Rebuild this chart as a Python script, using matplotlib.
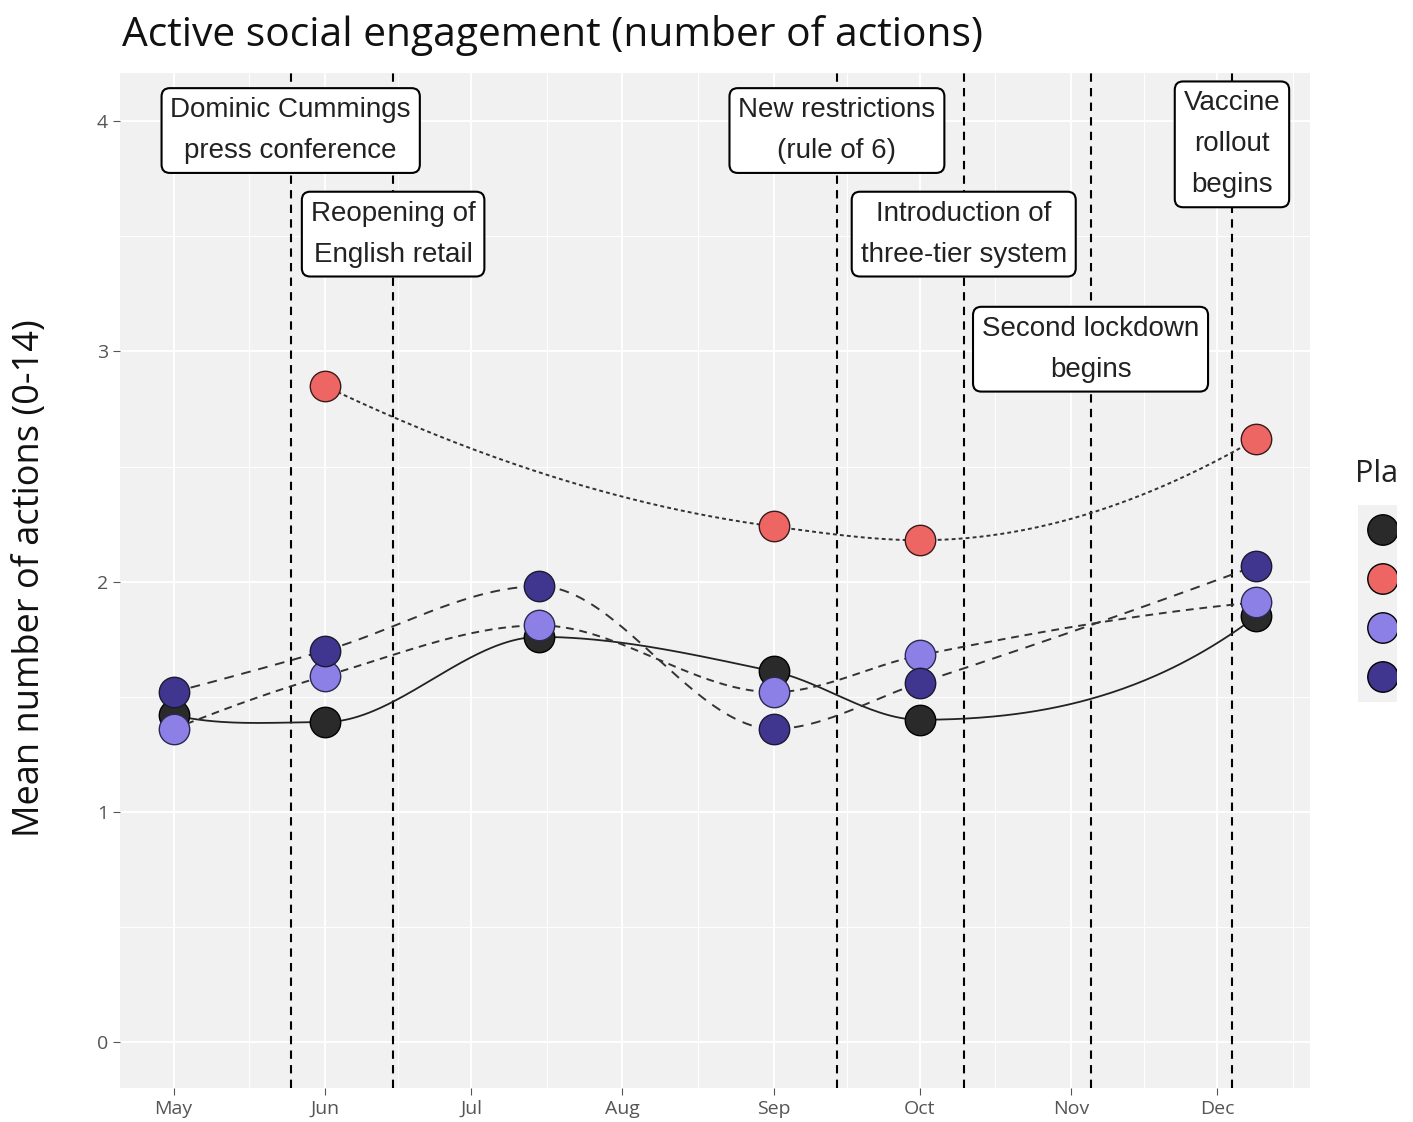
import numpy as np
import matplotlib.pyplot as plt
import matplotlib.dates as mdates
from datetime import datetime

# survey waves (x) and mean number of actions per group
dates = ['2020-05-01', '2020-06-01', '2020-07-15', '2020-09-01', '2020-10-01', '2020-12-09']
black_vals = [1.42, 1.39, 1.76, 1.61, 1.40, 1.85]
red_dates = ['2020-06-01', '2020-09-01', '2020-10-01', '2020-12-09']
red_vals = [2.85, 2.24, 2.18, 2.62]
light_vals = [1.36, 1.59, 1.81, 1.52, 1.68, 1.91]
dark_vals = [1.52, 1.70, 1.98, 1.36, 1.56, 2.07]

# events (vertical lines + labels)
event_dates = ['2020-05-25', '2020-06-15', '2020-09-14', '2020-10-10', '2020-11-05', '2020-12-04']
event_labels = ['Dominic Cummings\npress conference', 'Reopening of\nEnglish retail',
                'New restrictions\n(rule of 6)', 'Introduction of\nthree-tier system',
                'Second lockdown\nbegins', 'Vaccine\nrollout\nbegins']
event_label_y = [3.96, 3.51, 3.96, 3.51, 3.01, 3.90]

month_ticks = ['2020-05-01', '2020-06-01', '2020-07-01', '2020-08-01',
               '2020-09-01', '2020-10-01', '2020-11-01', '2020-12-01']
month_names = ['May', 'Jun', 'Jul', 'Aug', 'Sep', 'Oct', 'Nov', 'Dec']


def to_num(ds):
    return mdates.date2num([datetime.strptime(d, '%Y-%m-%d') for d in ds])


def pchip(x, y, xn):
    # monotone cubic (Fritsch-Carlson) for the smooth connecting lines
    x = np.asarray(x, float)
    y = np.asarray(y, float)
    h = np.diff(x)
    d = np.diff(y) / h
    n = len(x)
    m = np.zeros(n)
    for k in range(1, n - 1):
        if d[k - 1] * d[k] > 0:
            w1 = 2 * h[k] + h[k - 1]
            w2 = h[k] + 2 * h[k - 1]
            m[k] = (w1 + w2) / (w1 / d[k - 1] + w2 / d[k])
    m[0] = ((2 * h[0] + h[1]) * d[0] - h[0] * d[1]) / (h[0] + h[1])
    if np.sign(m[0]) != np.sign(d[0]):
        m[0] = 0
    m[-1] = ((2 * h[-1] + h[-2]) * d[-1] - h[-1] * d[-2]) / (h[-1] + h[-2])
    if np.sign(m[-1]) != np.sign(d[-1]):
        m[-1] = 0
    out = np.empty_like(xn)
    for i, xv in enumerate(xn):
        k = min(max(np.searchsorted(x, xv) - 1, 0), n - 2)
        t = (xv - x[k]) / h[k]
        h00 = 2 * t**3 - 3 * t**2 + 1
        h10 = t**3 - 2 * t**2 + t
        h01 = -2 * t**3 + 3 * t**2
        h11 = t**3 - t**2
        out[i] = h00 * y[k] + h10 * h[k] * m[k] + h01 * y[k + 1] + h11 * h[k] * m[k + 1]
    return out


fig = plt.figure(figsize=(14.13, 11.22), dpi=100)
ax = fig.add_axes([120 / 1413, 1 - 1088 / 1122, 1190 / 1413, 1015 / 1122])
ax.set_facecolor('#f1f1f1')
for s in ax.spines.values():
    s.set_visible(False)

x = to_num(dates)
xr = to_num(red_dates)
ax.set_xlim(to_num(['2020-04-20'])[0], to_num(['2020-12-20'])[0])
ax.set_ylim(-0.2, 4.21)

# grid
ax.set_yticks([0, 1, 2, 3, 4])
ax.set_yticks([0.5, 1.5, 2.5, 3.5], minor=True)
mt = to_num(month_ticks)
ax.set_xticks(mt)
ax.set_xticklabels(month_names)
mids = list((mt[:-1] + mt[1:]) / 2) + [mt[-1] + 15.5]
ax.set_xticks(mids, minor=True)
ax.grid(which='major', color='white', linewidth=1.4)
ax.grid(which='minor', color='white', linewidth=0.7)
ax.set_axisbelow(True)
ax.tick_params(which='minor', length=0)
ax.tick_params(which='major', length=5, color='#555555', labelcolor='#555555', labelsize=14)
for lab in ax.get_xticklabels() + ax.get_yticklabels():
    lab.set_family(['Open Sans', 'DejaVu Sans'])

# event lines and labels
ev = to_num(event_dates)
for xe, lab, ly in zip(ev, event_labels, event_label_y):
    ax.axvline(xe, color='black', linestyle=(0, (4, 3)), linewidth=1.5, zorder=2)
    ax.text(xe, ly, lab, ha='center', va='center', fontsize=20, linespacing=1.75,
            family=['Liberation Sans', 'DejaVu Sans'], color='#222222', zorder=6,
            bbox=dict(boxstyle='round,pad=0.32,rounding_size=0.3', fc='white', ec='black', lw=1.5))

# smoothed lines
xs = np.linspace(x[0], x[-1], 400)
xrs = np.linspace(xr[0], xr[-1], 400)
ax.plot(xs, pchip(x, black_vals, xs), color='#222222', linewidth=1.3, zorder=3)
ax.plot(xrs, pchip(xr, red_vals, xrs), color='#333333', linewidth=1.4, linestyle=(0, (2, 1.6)), zorder=3)
ax.plot(xs, pchip(x, light_vals, xs), color='#333333', linewidth=1.4, linestyle=(0, (4, 3)), zorder=3)
ax.plot(xs, pchip(x, dark_vals, xs), color='#333333', linewidth=1.4, linestyle=(0, (5, 4)), zorder=3)

cols = ['#2a2a2a', '#ee6663', '#8c80e6', '#41368f']
msize = 480
ax.scatter(x, black_vals, s=msize, color=cols[0], edgecolor='black', linewidth=1, zorder=4)
ax.scatter(xr, red_vals, s=msize, color=cols[1], edgecolor='#3a1a1a', linewidth=1, zorder=4)
ax.scatter(x, light_vals, s=msize, color=cols[2], edgecolor='#2a2a50', linewidth=1, zorder=4)
ax.scatter(x, dark_vals, s=msize, color=cols[3], edgecolor='#1a1a30', linewidth=1, zorder=4)

fig.text(122 / 1413, 1 - 35 / 1122, 'Active social engagement (number of actions)',
         fontsize=29.3, family=['Open Sans', 'DejaVu Sans'], color='#111111', va='center', ha='left')
fig.text(30 / 1413, 1 - 578 / 1122, 'Mean number of actions (0-14)', rotation=90,
         fontsize=26, family=['Open Sans', 'DejaVu Sans'], color='#111111', va='center', ha='center')

# legend (cut off at the right edge)
fig.text(1355 / 1413, 1 - 474 / 1122, 'Pla', fontsize=22, family=['Open Sans', 'DejaVu Sans'],
         color='#222222', va='center', ha='left')
lax = fig.add_axes([1358 / 1413, 1 - 702 / 1122, 39 / 1413, 197 / 1122])
lax.set_facecolor('#f1f1f1')
lax.set_xlim(0, 39)
lax.set_ylim(0, 197)
for s in lax.spines.values():
    s.set_visible(False)
lax.set_xticks([])
lax.set_yticks([])
lax.scatter([25] * 4, [172, 123, 74, 25], s=msize, color=cols, edgecolor='black', linewidth=1)

fig.savefig('out.png', dpi=100)
